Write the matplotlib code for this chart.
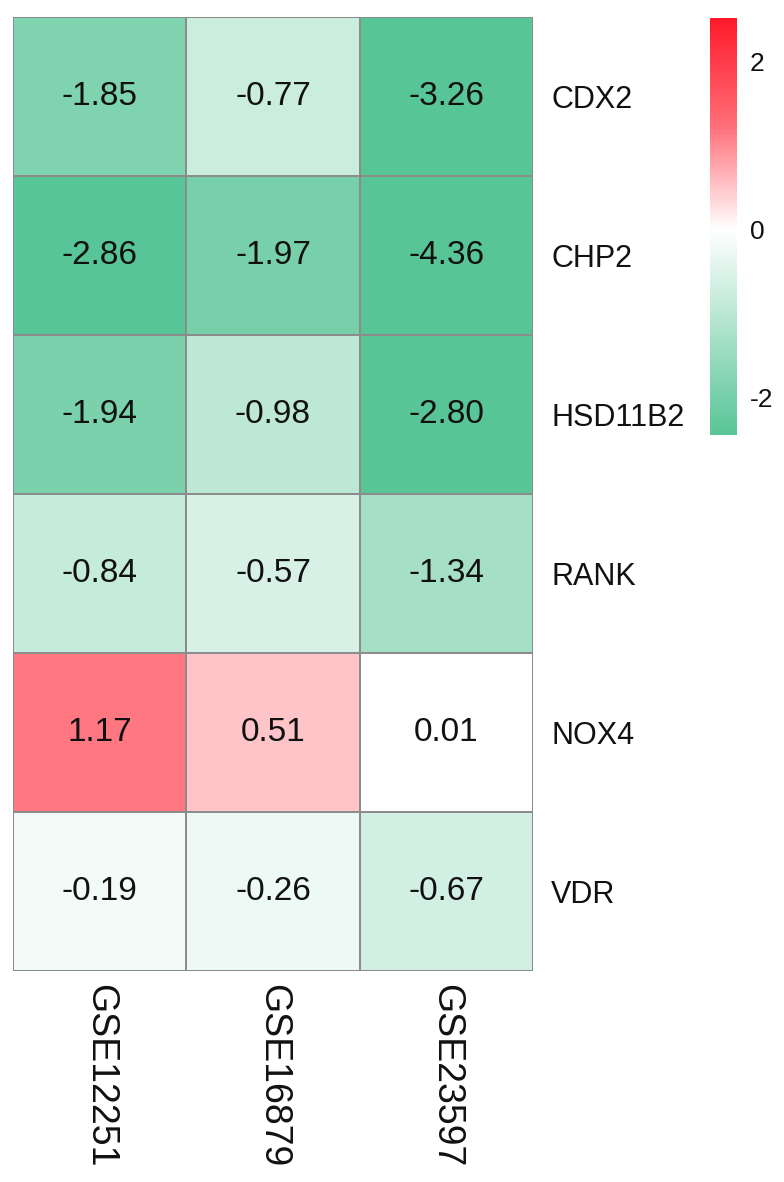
import numpy as np
import matplotlib
matplotlib.use("Agg")
import matplotlib.pyplot as plt
from matplotlib.colors import LinearSegmentedColormap, Normalize
from matplotlib.colorbar import ColorbarBase

plt.rcParams['font.family'] = ['Liberation Sans', 'DejaVu Sans']
plt.rcParams['axes.unicode_minus'] = False

genes = ["CDX2", "CHP2", "HSD11B2", "RANK", "NOX4", "VDR"]
datasets = ["GSE12251", "GSE16879", "GSE23597"]
gse12251 = [-1.85, -2.86, -1.94, -0.84, 1.17, -0.19]
gse16879 = [-0.77, -1.97, -0.98, -0.57, 0.51, -0.26]
gse23597 = [-3.26, -4.36, -2.80, -1.34, 0.01, -0.67]

vals = np.array([gse12251, gse16879, gse23597]).T

vmin, vmax = -2.45, 2.52
def pos(v):
    return (v - vmin) / (vmax - vmin)
cmap = LinearSegmentedColormap.from_list("gwr", [
    (0.0, "#58C596"),
    (pos(0), "#FFFFFF"),
    (pos(1.25), "#FF6E78"),
    (1.0, "#FF1A2A"),
])
norm = Normalize(vmin=vmin, vmax=vmax, clip=True)

W, H = 784, 1182
fig = plt.figure(figsize=(W / 100, H / 100), dpi=100)
ax = fig.add_axes([13 / W, 1 - 971 / H, (533 - 13) / W, (971 - 17) / H])

ax.pcolormesh(np.clip(vals, vmin, vmax), cmap=cmap, norm=norm,
              edgecolors="#8C8C8C", linewidth=1.2)
ax.set_xlim(0, len(datasets))
ax.set_ylim(len(genes), 0)
for s in ax.spines.values():
    s.set_visible(False)

for i in range(len(genes)):
    for j in range(len(datasets)):
        ax.text(j + 0.5, i + 0.5, "%.2f" % vals[i, j], ha="center", va="center",
                fontsize=24, color="#111111")

ax.yaxis.tick_right()
ax.set_yticks(np.arange(len(genes)) + 0.5)
ax.set_yticklabels(genes, fontsize=22, color="#111111")
ax.set_xticks(np.arange(len(datasets)) + 0.5)
ax.set_xticklabels(datasets, fontsize=27, rotation=-90, va="top", color="#111111")
ax.tick_params(length=0, pad=9)
ax.tick_params(axis="y", pad=13)

cax = fig.add_axes([710 / W, 1 - 435 / H, 27 / W, (435 - 18) / H])
cb = ColorbarBase(cax, cmap=cmap, norm=norm, ticks=[-2, 0, 2])
cb.outline.set_visible(False)
cax.tick_params(length=0, labelsize=19, pad=9, colors="#111111")

fig.savefig("out.png", dpi=100)
